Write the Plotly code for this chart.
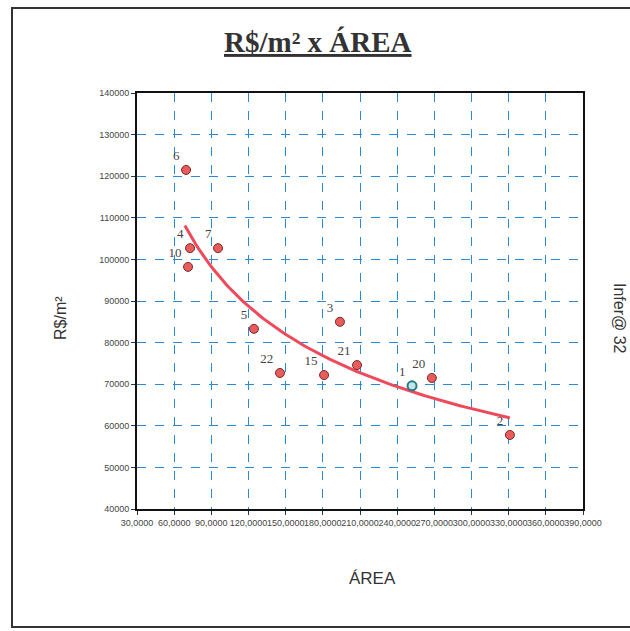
import numpy as np
import plotly.graph_objects as go

# Data (ÁREA vs R$/m²)
labels = ["6", "4", "10", "7", "5", "22", "15", "3", "21", "1", "20", "2"]
area = [69.6, 72.8, 71.2, 95.4, 124.4, 145.4, 181.0, 193.8, 207.6, 252.0, 268.0, 331.0]
price_m2 = [121500, 102700, 98200, 102700, 83300, 72700, 72200, 85000, 74600, 69600, 71500, 57800]
highlight = "1"

x_ticks = [30, 60, 90, 120, 150, 180, 210, 240, 270, 300, 330, 360, 390]
y_ticks = [40000, 50000, 60000, 70000, 80000, 90000, 100000, 110000, 120000, 130000, 140000]

# power trend line fitted to the points (like a spreadsheet trendline)
lx = np.log(np.array(area))
ly = np.log(np.array(price_m2))
b, lna = np.polyfit(lx, ly, 1)
xt = np.linspace(min(area) - 1, max(area), 120)
yt = np.exp(lna) * xt ** b

W, H = 630, 631
L, R, T, B = 137, 47, 93, 122
pw, ph = W - L - R, H - T - B


def px(xp):
    return (xp - L) / pw


def py(yp):
    return (H - B - yp) / ph


fig = go.Figure()

fig.add_trace(go.Scatter(
    x=xt, y=yt, mode="lines",
    line=dict(color="#ee4a5a", width=3),
    hoverinfo="skip", showlegend=False,
))

norm_idx = [i for i, l in enumerate(labels) if l != highlight]
hi_idx = [i for i, l in enumerate(labels) if l == highlight]

fig.add_trace(go.Scatter(
    x=[area[i] for i in norm_idx], y=[price_m2[i] for i in norm_idx],
    text=[labels[i] for i in norm_idx],
    mode="markers+text", textposition="top left",
    textfont=dict(family="Liberation Serif", size=13, color="#444"),
    marker=dict(size=9, color="#e85c5c", line=dict(color="#7a2a2a", width=1)),
    showlegend=False,
))
fig.add_trace(go.Scatter(
    x=[area[i] for i in hi_idx], y=[price_m2[i] for i in hi_idx],
    text=[labels[i] for i in hi_idx],
    mode="markers+text", textposition="top left",
    textfont=dict(family="Liberation Serif", size=13, color="#444"),
    marker=dict(size=9, color="#bfe6e8", line=dict(color="#2a7a84", width=2)),
    showlegend=False,
))

grid = dict(showgrid=True, gridcolor="#2a8ad8", gridwidth=1, griddash="dash",
            showline=True, linecolor="#111", linewidth=2, mirror=True,
            ticks="outside", ticklen=4, tickcolor="#333", zeroline=False,
            tickfont=dict(family="Liberation Sans", size=9, color="#444"))

fig.update_xaxes(range=[x_ticks[0], x_ticks[-1]], tickvals=x_ticks,
                 tickformat=".4f", tickangle=0, **grid)
fig.update_yaxes(range=[y_ticks[0], y_ticks[-1]], tickvals=y_ticks,
                 tickformat="d", **grid)

annots = [
    dict(text="R$/m² x ÁREA", x=px(318), y=py(42),
         font=dict(family="Liberation Serif", size=29, color="#333",
                   weight="bold", lineposition="under")),
    dict(text="R$/m²", x=px(60), y=py(318), textangle=-90,
         font=dict(family="Liberation Sans", size=16, color="#333")),
    dict(text="ÁREA", x=px(372), y=py(578),
         font=dict(family="Liberation Sans", size=17, color="#333")),
    dict(text="Infer@ 32", x=px(620), y=py(318), textangle=90,
         font=dict(family="Liberation Sans", size=16, color="#333")),
]
for a in annots:
    a.update(xref="paper", yref="paper", showarrow=False,
             xanchor="center", yanchor="middle")
    fig.add_annotation(**a)

fig.add_shape(type="rect", xref="paper", yref="paper",
              x0=px(12), x1=px(645), y0=py(627), y1=py(8),
              line=dict(color="#333", width=2), layer="below")

fig.update_layout(
    width=W, height=H,
    margin=dict(l=L, r=R, t=T, b=B),
    paper_bgcolor="white", plot_bgcolor="white",
    separators=",.",
)

fig.write_html("out.html")
